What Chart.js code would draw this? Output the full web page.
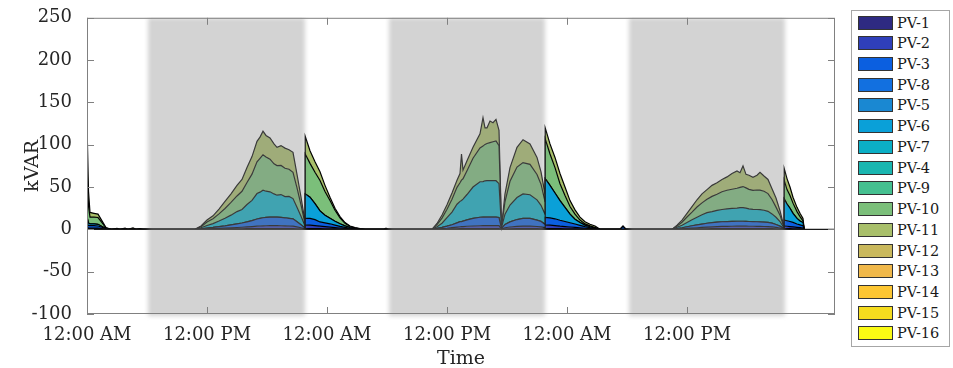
<!DOCTYPE html>
<html>
<head>
<meta charset="utf-8">
<script src="https://cdn.jsdelivr.net/npm/chart.js@4.4.0/dist/chart.umd.min.js"></script>
<style>
  html, body { margin: 0; padding: 0; background: #fff; }
  #wrap { position: relative; width: 953px; height: 368px; font-family: "DejaVu Serif", serif; }
  #plot { position: absolute; left: 0; top: 0; width: 845px; height: 368px; }
  #legend { position: absolute; left: 851px; top: 10px; width: 99px; height: 337px; border: 1px solid #a6a6a6; box-sizing: border-box; background: #fff; }
  .item { position: absolute; left: 6px; height: 15px; display: flex; align-items: center; }
  .sw { width: 35px; height: 14px; border: 1px solid #333; box-sizing: border-box; }
  .lb { margin-left: 4px; font-size: 14.5px; color: #1a1a1a; }
</style>
</head>
<body>
<div id="wrap">
  <div id="plot"><canvas id="myChart"></canvas></div>
  <div id="legend"></div>
</div>
<script>
// hours since the first midnight
const hours = [0, 0.15, 0.3, 0.7, 1.1, 1.5, 1.9, 2.4, 3.0, 3.3, 3.8, 4.1, 4.6, 4.9, 5.3, 5.6, 10.8,
  11.4, 12.0, 12.6, 13.2, 13.8, 14.4, 15.0, 15.5, 16.0, 16.5, 17.0, 17.3, 17.6, 17.9, 18.3, 18.7, 19.0, 19.4, 19.8, 20.2, 20.6, 21.0, 21.4, 21.8,
  21.82, 22.3, 22.8, 23.3, 23.8, 24.3, 24.8, 25.3, 25.8, 26.3, 26.8, 27.3, 27.8, 29.7, 29.9, 30.1, 34.5,
  35.0, 35.5, 36.0, 36.5, 37.0, 37.3, 37.45, 37.6, 38.0, 38.6, 39.3, 39.6, 39.8, 40.0, 40.3, 40.6, 40.9, 41.2, 41.45, 41.8, 42.3, 43.0, 43.6, 44.3, 45.0, 45.4, 45.8,
  45.82, 46.3, 46.8, 47.3, 47.8, 48.3, 48.8, 49.3, 49.8, 50.3, 50.8, 51.3, 53.3, 53.6, 53.9, 58.5,
  59.0, 59.5, 60.0, 60.5, 61.0, 61.5, 62.0, 62.5, 63.0, 63.5, 64.0, 64.5, 65.0, 65.3, 65.6, 65.9, 66.2, 66.6, 67.0, 67.3, 67.7, 68.1, 68.5, 68.9, 69.3, 69.7,
  69.72, 70.0, 70.3, 70.6, 71.0, 71.3, 71.6, 71.72];

const pv1 = [1, 0.5, 0.5, 0.5, 0.5, 0.3, 0.1, 0, 0, 0, 0, 0, 0, 0, 0, 0, 0,
  0.1, 0.2, 0.2, 0.3, 0.4, 0.5, 0.6, 0.7, 0.8, 0.9, 1, 1, 1, 1, 1, 1, 1, 1, 1, 0.9, 0.9, 0.7, 0.5, 0.2,
  1, 1, 1, 0.8, 0.7, 0.6, 0.5, 0.4, 0.3, 0.2, 0.1, 0, 0, 0, 0, 0, 0,
  0.1, 0.2, 0.3, 0.5, 0.7, 0.8, 0.8, 0.8, 0.9, 1, 1, 1, 1, 1, 1, 1, 1, 1, 0.1, 0.4, 0.6, 0.8, 0.9, 0.9, 0.8, 0.7, 0.5,
  1, 1, 1, 0.8, 0.7, 0.6, 0.5, 0.4, 0.3, 0.2, 0.1, 0, 0, 0, 0, 0,
  0.1, 0.2, 0.3, 0.4, 0.5, 0.6, 0.7, 0.8, 0.9, 1, 1, 1, 1, 1, 1, 1, 1, 1, 1, 1, 0.9, 0.9, 0.8, 0.6, 0.4, 0.1,
  1, 0.9, 0.8, 0.7, 0.6, 0.5, 0.4, 0];

const pv2 = [2, 1, 1, 1, 1, 0.7, 0.2, 0, 0, 0, 0, 0, 0, 0, 0, 0, 0,
  0.2, 0.4, 0.6, 0.8, 1, 1.3, 1.6, 1.8, 2.1, 2.4, 2.8, 3, 3.2, 3.3, 3.4, 3.4, 3.4, 3.3, 3.2, 3.1, 3, 2.3, 1.4, 0.5,
  4, 4, 3.5, 3, 2.5, 2, 1.6, 1.2, 0.8, 0.5, 0.3, 0.1, 0, 0, 0, 0, 0,
  0.3, 0.6, 1, 1.5, 2, 2.3, 2.4, 2.5, 2.8, 3, 3.3, 3.4, 3.4, 3.5, 3.5, 3.5, 3.5, 3.5, 0.3, 1.5, 2.2, 2.8, 3, 3, 2.6, 2.2, 1.5,
  4, 4, 3.5, 3, 2.6, 2.2, 1.8, 1.4, 1, 0.7, 0.4, 0, 0, 0, 0, 0,
  0.3, 0.5, 0.8, 1.1, 1.4, 1.7, 2, 2.2, 2.4, 2.5, 2.6, 2.7, 2.8, 2.8, 2.8, 2.8, 2.7, 2.7, 2.6, 2.6, 2.5, 2.4, 2.1, 1.7, 1.1, 0.3,
  3, 2.8, 2.5, 2.2, 1.8, 1.5, 1.2, 0];

const pv3 = [4, 3, 3, 3, 2.5, 1.5, 0.4, 0, 0, 0, 0, 0, 0, 0, 0, 0, 0,
  0.4, 1, 1.5, 2.2, 2.8, 3.5, 4.3, 5, 6, 7, 8.5, 9, 9.5, 9.8, 10, 10, 10, 9.8, 9.5, 9, 8.5, 6, 3.5, 1,
  8, 8, 7, 5, 4.5, 4, 3, 2, 1.2, 0.6, 0.3, 0.1, 0, 0, 0, 0, 0,
  0.8, 1.5, 2.5, 3.5, 5, 6, 6, 6.5, 7.5, 9, 10, 10, 10, 10, 10, 10, 10, 9.5, 0.8, 4, 6, 8, 9, 9, 7.5, 6.5, 4,
  9, 8.5, 8, 7, 6, 5, 4, 3, 2, 1.2, 0.6, 0, 0, 3.5, 0, 0,
  0.6, 1.2, 2, 2.8, 3.5, 4, 4.5, 5, 5.2, 5.5, 5.6, 5.7, 5.8, 5.8, 5.8, 5.7, 5.6, 5.5, 5.4, 5.3, 5.2, 5, 4.4, 3.5, 2.3, 0.5,
  7, 6.5, 6, 5.3, 4, 3.4, 2.8, 0];

const pv6 = [8, 3, 2, 2, 2, 1, 0.3, 0, 0, 0, 0, 0, 0, 0, 0, 0, 0,
  0, 0, 0, 0, 0, 0, 0, 0, 0, 0, 0, 0, 0, 0, 0, 0, 0, 0, 0, 0, 0, 0, 0, 0,
  29, 25, 19, 13, 9, 6.5, 4.5, 3, 1.8, 0.9, 0.4, 0.2, 0, 0, 0, 0, 0,
  0, 0, 0, 0, 0, 0, 0, 0, 0, 0, 0, 0, 0, 0, 0, 0, 0, 0, 0, 0, 0, 0, 0, 0, 0, 0, 0,
  46, 38.5, 30.5, 23.2, 16.7, 10.2, 5.7, 3.2, 1.7, 1, 0.5, 0, 0, 0, 0, 0,
  0, 0, 0, 0, 0, 0, 0, 0, 0, 0, 0, 0, 0, 0, 0, 0, 0, 0, 0, 0, 0, 0, 0, 0, 0, 0,
  25, 19.8, 15.7, 10.8, 6.6, 4.6, 3.6, 0];

const pv7 = [0, 0, 0, 0, 0, 0, 0, 0, 0, 0, 0, 0, 0, 0, 0, 0, 0,
  1.2, 3, 4.5, 6.5, 9, 11.5, 14.5, 16, 20.5, 24, 30, 31, 32.5, 31, 30, 27.5, 26, 27, 25, 26, 24, 17, 10, 2.5,
  0, 0, 0, 0, 0, 0, 0, 0, 0, 0, 0, 0, 0, 0, 0, 0, 0,
  2, 5, 10, 15, 22, 24, 25, 26, 30, 37, 42, 42, 43, 43, 43, 43, 43, 40, 0.8, 12, 20, 26, 29, 28, 24, 19, 12,
  0, 0, 0, 0, 0, 0, 0, 0, 0, 0, 0, 0, 0, 0, 0, 0,
  1.5, 3, 5, 7, 9, 11, 12.5, 13, 14, 14.5, 15, 15.5, 15.5, 16, 16, 15.5, 15, 14.5, 14.5, 14.5, 14, 13, 11, 8.5, 5.5, 0.8,
  0, 0, 0, 0, 0, 0, 0, 0];

const pv10 = [60, 20, 8, 8, 8, 4.5, 0.6, 0, 0, 0, 0, 0, 0, 0, 0, 0, 0,
  1.3, 4, 5.8, 8.5, 11.5, 15, 18.5, 21.5, 26, 31, 37.5, 40, 42, 40.5, 38.5, 35.5, 35, 34.5, 33.5, 32, 31, 23, 13.5, 3,
  47, 40, 37, 36, 28, 21, 13, 7, 3, 1.2, 0.6, 0.2, 0, 0, 0, 0, 0,
  2.5, 6, 10, 15, 20, 22, 24, 24, 28, 34, 40, 42, 43, 44, 45, 46, 47, 45, 0.6, 15, 28, 36, 37, 36, 30, 25, 15,
  47, 37, 30, 20, 14, 9, 6, 3, 1.5, 1, 0.5, 0, 0, 0, 0, 0,
  1.5, 3.5, 6.5, 9, 12, 14, 16, 18, 19, 21, 22, 22.5, 23.5, 24, 25, 24, 23, 22.5, 23, 23, 22.5, 21, 17, 12, 7.5, 0.7,
  22, 17, 15, 12, 8, 5, 2, 0];

const pv11 = [50, 17.5, 5.5, 4.5, 4, 2, 0.4, 0, 1.2, 0, 1.5, 0, 1.8, 0, 1, 0, 0,
  0.8, 2.4, 3.4, 5.7, 8.3, 10.2, 12.5, 14, 17.6, 20.7, 24.2, 25, 27.8, 25.4, 25.1, 23.6, 21.6, 23.4, 23.8, 23, 23.6, 16, 9.1, 1.8,
  21, 15, 12.5, 10.2, 7.3, 3.9, 2.4, 1.4, 0.9, 0.6, 0.3, 0.2, 0, 0, 1.5, 0, 0,
  1.3, 3.7, 5.2, 7.5, 8.3, 10.9, 30.8, 10.2, 11.8, 13, 16.7, 33.6, 19.6, 18.5, 25.5, 22.5, 25.5, 18, 0.4, 9.1, 16.2, 23.4, 27.1, 24.1, 20.1, 14.6, 9,
  13, 12, 12, 12, 10, 7, 5, 3.5, 2.5, 1.9, 1.9, 0, 0, 0, 0, 0,
  1, 2.6, 4.4, 6.7, 8.6, 10.7, 11.3, 13, 13.5, 14.5, 15.8, 18.6, 20.4, 17.4, 24.4, 16, 16.7, 15.3, 17.5, 21.1, 17.9, 16.7, 12.7, 10.7, 5.2, 0.6,
  14, 13, 10, 7, 5, 4, 3, 0];

// no visible output from these
const pv8 = [], pv5 = [], pv4 = [], pv9 = [], pv12 = [], pv13 = [], pv14 = [], pv15 = [], pv16 = [];

const names = ['PV-1', 'PV-2', 'PV-3', 'PV-8', 'PV-5', 'PV-6', 'PV-7', 'PV-4', 'PV-9', 'PV-10', 'PV-11', 'PV-12', 'PV-13', 'PV-14', 'PV-15', 'PV-16'];
const series = [pv1, pv2, pv3, pv8, pv5, pv6, pv7, pv4, pv9, pv10, pv11, pv12, pv13, pv14, pv15, pv16];
const colors = ['#2e2a82', '#2f3fba', '#0b5fe0', '#1270e0', '#1a88d2', '#0aa0d8', '#0bafc6', '#1ab6b0',
  '#45c090', '#7bbf7a', '#a8bf6a', '#c9b85c', '#f0b84a', '#fdc632', '#f5dc1e', '#fafa14'];

const tickHours = [0, 12, 24, 36, 48, 60];
const tickLabels = ['12:00 AM', '12:00 PM', '12:00 AM', '12:00 PM', '12:00 AM', '12:00 PM'];
const shadeStart = [6.1, 30.2, 54.2];
const shadeEnd = [21.8, 45.8, 69.8];

// legend box
const leg = document.getElementById('legend');
names.forEach((n, i) => {
  const d = document.createElement('div');
  d.className = 'item';
  d.style.top = (4 + i * 20.73) + 'px';
  d.innerHTML = '<div class="sw" style="background:' + colors[i] + '"></div><span class="lb">' + n + '</span>';
  leg.appendChild(d);
});

const axisColor = '#808080';
const txtColor = '#262626';

const decor = {
  id: 'decor',
  afterDatasetsDraw(chart) {
    const {ctx, chartArea: a, scales: {x, y}} = chart;
    ctx.save();
    const y0 = y.getPixelForValue(0);
    ctx.strokeStyle = '#1a1a1a';
    ctx.lineWidth = 1.2;
    ctx.beginPath();
    ctx.moveTo(a.left, y0);
    ctx.lineTo(a.right, y0);
    ctx.stroke();
    // shaded periods lie over the areas
    ctx.filter = 'blur(2px)';
    ctx.fillStyle = 'rgba(145,145,145,0.4)';
    shadeStart.forEach((s, i) => {
      const x1 = x.getPixelForValue(s);
      const x2 = x.getPixelForValue(shadeEnd[i]);
      ctx.fillRect(x1, a.top, x2 - x1, a.bottom - a.top + 2);
    });
    ctx.restore();
  },
  afterDraw(chart) {
    const {ctx, chartArea: a, scales: {x, y}} = chart;
    ctx.save();
    ctx.fillStyle = '#fff';
    ctx.fillRect(a.left, 0, a.right - a.left, a.top - 0.5);
    ctx.strokeStyle = axisColor;
    ctx.lineWidth = 1;
    ctx.strokeRect(a.left + 0.5, a.top + 0.5, a.right - a.left - 1, a.bottom - a.top - 1);
    const tl = 7;
    ctx.beginPath();
    y.ticks.forEach(t => {
      const py = Math.round(y.getPixelForValue(t.value)) + 0.5;
      ctx.moveTo(a.left, py); ctx.lineTo(a.left + tl, py);
      ctx.moveTo(a.right, py); ctx.lineTo(a.right - tl, py);
    });
    tickHours.forEach(h => {
      const px = Math.round(x.getPixelForValue(h)) + 0.5;
      ctx.moveTo(px, a.top); ctx.lineTo(px, a.top + tl);
      ctx.moveTo(px, a.bottom); ctx.lineTo(px, a.bottom - tl);
    });
    ctx.stroke();
    ctx.restore();
  }
};

const datasets = names.map((n, i) => ({
  label: n,
  data: series[i],
  backgroundColor: colors[i],
  borderColor: '#000',
  borderWidth: 1.2,
  pointRadius: 0,
  tension: 0,
  fill: i === 0 ? 'origin' : 'stack'
}));

new Chart(document.getElementById('myChart'), {
  type: 'line',
  data: { labels: hours, datasets: datasets },
  options: {
    responsive: true,
    maintainAspectRatio: false,
    animation: false,
    devicePixelRatio: 1,
    layout: { padding: { top: 17, right: 10, left: 0, bottom: 0 } },
    plugins: { legend: { display: false }, tooltip: { enabled: false } },
    scales: {
      x: {
        type: 'linear',
        min: 0,
        max: 74.8,
        grid: { display: false },
        border: { display: false },
        afterBuildTicks: s => { s.ticks = tickHours.map(v => ({ value: v })); },
        afterFit: s => { s.height = 54; },
        ticks: {
          autoSkip: false,
          maxRotation: 0,
          padding: 3,
          color: txtColor,
          font: { family: 'DejaVu Serif', size: 18 },
          callback: (v, i) => tickLabels[i]
        },
        title: { display: true, text: 'Time', color: txtColor, padding: { top: 0, bottom: -2 },
          font: { family: 'DejaVu Serif', size: 19 } }
      },
      y: {
        stacked: true,
        min: -100,
        max: 250,
        grid: { display: false },
        border: { display: false },
        afterFit: s => { s.width = 87; },
        ticks: { stepSize: 50, padding: 7, color: txtColor, font: { family: 'DejaVu Serif', size: 18 } },
        title: { display: true, text: 'kVAR', color: txtColor, padding: { top: 22, bottom: 0 },
          font: { family: 'DejaVu Serif', size: 19 } }
      }
    }
  },
  plugins: [decor]
});
</script>
</body>
</html>
